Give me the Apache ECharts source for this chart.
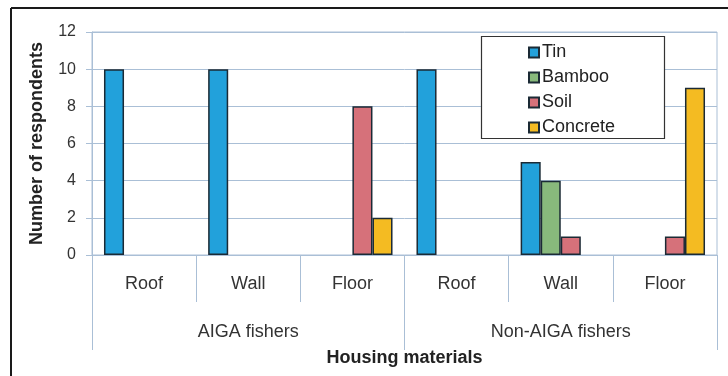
<!DOCTYPE html>
<html>
<head>
<meta charset="utf-8">
<script src="https://cdn.jsdelivr.net/npm/echarts@6/dist/echarts.min.js"></script>
<style>
  html, body { margin: 0; padding: 0; background: #ffffff; }
  #chart { width: 728px; height: 376px; }
</style>
</head>
<body>
<div id="chart"></div>
<script>
// Housing materials reported by respondents
const groups = ['AIGA fishers', 'Non-AIGA fishers'];
const materials = ['Roof', 'Wall', 'Floor', 'Roof', 'Wall', 'Floor'];
const yTicks = [0, 2, 4, 6, 8, 10, 12];

const tin      = [10, 10, 0, 10, 5, 0];
const bamboo   = [0, 0, 0, 0, 4, 0];
const soil     = [0, 0, 8, 0, 1, 1];
const concrete = [0, 0, 2, 0, 0, 9];

const seriesDefs = [
  { name: 'Tin', values: tin, color: '#22a1db' },
  { name: 'Bamboo', values: bamboo, color: '#88b97c' },
  { name: 'Soil', values: soil, color: '#d6717a' },
  { name: 'Concrete', values: concrete, color: '#f4bb22' }
];

const axisColor = '#aabfd6';
const font = 'Liberation Sans, Arial, sans-serif';

const chart = echarts.init(document.getElementById('chart'), null, { renderer: 'canvas' });

chart.setOption({
  animation: false,
  backgroundColor: '#ffffff',
  textStyle: { fontFamily: font },
  grid: {
    left: 92, right: 11, top: 32, bottom: 121,
    show: true, borderColor: axisColor, borderWidth: 1, backgroundColor: 'transparent'
  },
  legend: {
    orient: 'vertical',
    left: 523, top: 38,
    itemWidth: 10, itemHeight: 10, itemGap: 6,
    icon: 'rect',
    textStyle: { fontSize: 18, color: '#222', fontFamily: font, lineHeight: 19, padding: [0, 0, 0, -2] },
    data: seriesDefs.map(s => s.name)
  },
  xAxis: [
    {
      type: 'category',
      data: materials,
      position: 'bottom',
      axisLine: { lineStyle: { color: axisColor, width: 1 } },
      axisTick: { show: true, interval: 0, length: 47, lineStyle: { color: axisColor } },
      axisLabel: { interval: 0, margin: 20, fontSize: 18, color: '#333', fontFamily: font }
    },
    {
      type: 'category',
      data: groups,
      position: 'bottom',
      offset: 0,
      axisLine: { show: false },
      axisTick: { show: true, interval: 0, length: 95, lineStyle: { color: axisColor } },
      axisLabel: { interval: 0, margin: 68, fontSize: 18, color: '#333', fontFamily: font },
      name: 'Housing materials',
      nameLocation: 'middle',
      nameGap: 94,
      nameTextStyle: { fontSize: 18, fontWeight: 'bold', color: '#222', fontFamily: font }
    }
  ],
  yAxis: {
    type: 'value',
    min: yTicks[0],
    max: yTicks[yTicks.length - 1],
    interval: 2,
    axisLine: { show: true, lineStyle: { color: axisColor } },
    axisTick: { show: true, length: 6, lineStyle: { color: axisColor } },
    axisLabel: { margin: 16, fontSize: 16, color: '#333', fontFamily: font },
    splitLine: { show: true, lineStyle: { color: axisColor, width: 1 } },
    name: 'Number of respondents',
    nameLocation: 'middle',
    nameGap: 46,
    nameRotate: 90,
    nameTextStyle: { fontSize: 18, fontWeight: 'bold', color: '#222', fontFamily: font }
  },
  series: seriesDefs.map(s => ({
    name: s.name,
    type: 'bar',
    xAxisIndex: 0,
    barGap: '0%',
    barCategoryGap: '23%',
    itemStyle: { color: s.color, borderColor: '#1b2a35', borderWidth: 1.5 },
    data: s.values.map(v => (v === 0 ? '-' : v))
  })),
  graphic: [
    {
      type: 'rect',
      shape: { x: 481.5, y: 36.5, width: 183, height: 102 },
      style: { fill: '#ffffff', stroke: '#333333', lineWidth: 1.2 },
      z: 3, z2: 0
    },
    {
      type: 'line',
      shape: { x1: 11, y1: 8, x2: 728, y2: 8 },
      style: { stroke: '#1a1a1a', lineWidth: 2 }
    },
    {
      type: 'line',
      shape: { x1: 11, y1: 8, x2: 11, y2: 376 },
      style: { stroke: '#1a1a1a', lineWidth: 2 }
    }
  ]
});
</script>
</body>
</html>
